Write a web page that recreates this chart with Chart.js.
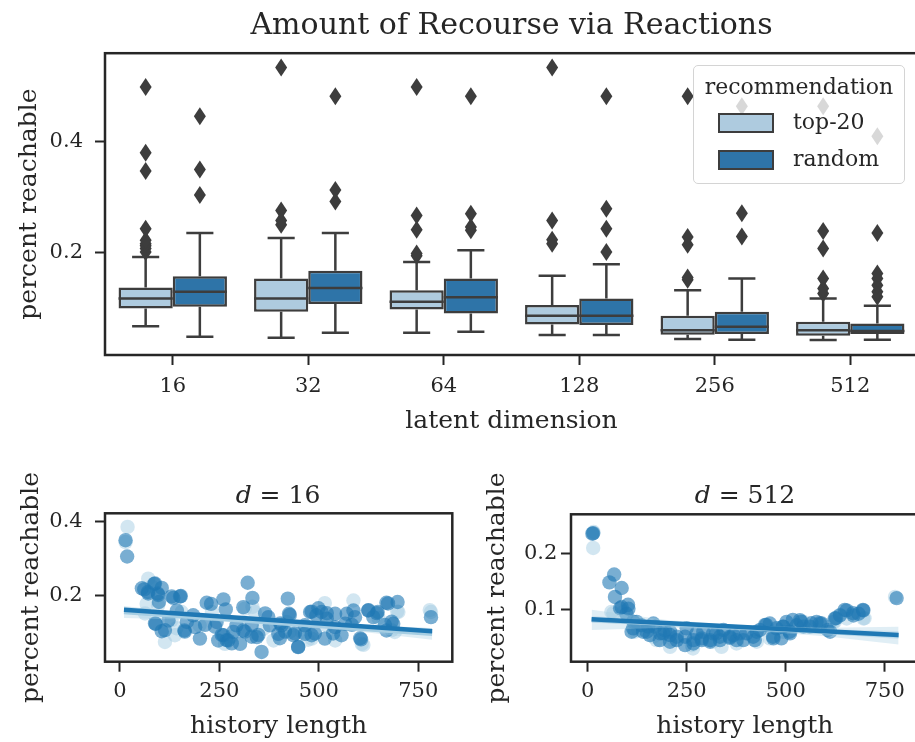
<!DOCTYPE html>
<html>
<head>
<meta charset="utf-8">
<script src="https://cdn.jsdelivr.net/npm/chart.js@4.4.1/dist/chart.umd.min.js"></script>
<style>
body { margin: 0; background: #fff; }
#fig { position: relative; width: 915px; height: 742px; overflow: hidden; background: #fff;
       font-family: 'DejaVu Serif', serif; color: #262626; }
#fig canvas { position: absolute; }
.legend { position: absolute; left: 693px; top: 65px; width: 210px; height: 117px;
          border: 1.5px solid #d4d4d4; border-radius: 5px; background: rgba(255,255,255,0.8);
          font-size: 22px; line-height: 26px; }
.legend div { position: absolute; }
.legend .patch { width: 52px; height: 16px; border: 2px solid #3d3d3d; }
.subtitle { position: absolute; top: 478px; width: 400px; text-align: center; font-size: 25px; line-height: 34px; }
</style>
</head>
<body>
<div id="fig">
  <canvas id="boxes" width="925" height="440" style="left:0;top:0"></canvas>
  <canvas id="reg16" width="460" height="302" style="left:0;top:440px"></canvas>
  <canvas id="reg512" width="466" height="302" style="left:460px;top:440px"></canvas>
  <div class="legend">
    <div style="left:0;width:210px;text-align:center;top:8px">recommendation</div>
    <div class="patch" style="left:24px;top:47px;background:#aecbdf"></div>
    <div style="left:99px;top:43px">top-20</div>
    <div class="patch" style="left:24px;top:84px;background:#2e74a8"></div>
    <div style="left:99px;top:80px">random</div>
  </div>
  <div class="subtitle" style="left:78px"><i>d</i> = 16</div>
  <div class="subtitle" style="left:545px"><i>d</i> = 512</div>
</div>
<script>
// latent dimension boxplots
var dims = ['16', '32', '64', '128', '256', '512'];

var top20Lo  = [0.067, 0.046, 0.055, 0.051, 0.0437, 0.0422];
var top20Q1  = [0.099, 0.093, 0.097, 0.070, 0.0515, 0.0497];
var top20Med = [0.117, 0.117, 0.111, 0.0857, 0.0598, 0.0598];
var top20Q3  = [0.137, 0.153, 0.132, 0.105, 0.0857, 0.0748];
var top20Hi  = [0.192, 0.226, 0.183, 0.158, 0.132, 0.117];
var top20Fliers = [
  [0.201, 0.207, 0.212, 0.216, 0.222, 0.243, 0.347, 0.380, 0.499],
  [0.250, 0.258, 0.276, 0.534],
  [0.194, 0.198, 0.241, 0.267, 0.499],
  [0.216, 0.223, 0.258, 0.534],
  [0.151, 0.155, 0.214, 0.228, 0.482],
  [0.126, 0.135, 0.153, 0.207, 0.239, 0.464]
];

var randomLo  = [0.048, 0.055, 0.057, 0.051, 0.0425, 0.0425];
var randomQ1  = [0.102, 0.107, 0.090, 0.069, 0.0527, 0.0527];
var randomMed = [0.129, 0.136, 0.119, 0.0857, 0.0658, 0.0583];
var randomQ3  = [0.157, 0.167, 0.153, 0.117, 0.0928, 0.0718];
var randomHi  = [0.235, 0.235, 0.204, 0.179, 0.153, 0.104];
var randomFliers = [
  [0.304, 0.350, 0.446],
  [0.292, 0.313, 0.482],
  [0.240, 0.246, 0.270, 0.482],
  [0.201, 0.243, 0.279, 0.482],
  [0.229, 0.271, 0.464],
  [0.120, 0.129, 0.141, 0.153, 0.162, 0.235, 0.410]
];

// d = 16 scatter (history length, percent reachable)
var d16RandomX = [14, 18, 61, 70, 86, 95, 105, 98, 134, 153, 143, 184, 90, 105, 162, 201, 218, 229, 260, 266,
  243, 260, 272, 285, 302, 310, 321, 333, 310, 344, 356, 373, 377, 398, 422, 425, 436, 448, 465, 478,
  494, 507, 520, 541, 515, 557, 570, 587, 591, 606, 624, 648, 670, 698, 687, 670, 782, 293, 247, 331,
  406, 465, 482, 541, 566, 637, 168, 122, 189,
  55, 71, 88, 96, 151, 130, 214, 239, 256, 268, 281, 314, 331, 348, 365, 403, 113, 163, 88, 427,
  482, 499, 520, 625, 646, 674, 683, 666, 415, 440, 490, 536, 583, 604, 448, 402];
var d16RandomY = [0.350, 0.306, 0.217, 0.210, 0.232, 0.206, 0.221, 0.183, 0.194, 0.199, 0.160, 0.147, 0.124, 0.104, 0.106, 0.084, 0.181, 0.178, 0.190, 0.163,
  0.129, 0.093, 0.079, 0.102, 0.070, 0.106, 0.235, 0.194, 0.169, 0.088, 0.048, 0.142, 0.120, 0.097, 0.192, 0.151, 0.093, 0.061, 0.120, 0.156,
  0.147, 0.156, 0.138, 0.151, 0.084, 0.093, 0.151, 0.160, 0.142, 0.082, 0.160, 0.156, 0.181, 0.183, 0.124, 0.106, 0.142, 0.120, 0.079, 0.120,
  0.120, 0.097, 0.093, 0.115, 0.124, 0.142, 0.129, 0.133, 0.115,
  0.220, 0.206, 0.233, 0.202, 0.198, 0.198, 0.121, 0.116, 0.094, 0.080, 0.071, 0.103, 0.089, 0.094, 0.152, 0.125, 0.107, 0.103, 0.125, 0.148,
  0.157, 0.166, 0.153, 0.161, 0.153, 0.179, 0.130, 0.121, 0.103, 0.098, 0.098, 0.098, 0.121, 0.085, 0.062, 0.085];
var d16Top20X = [19, 71, 67, 113, 138, 264, 339, 386, 482, 587, 608, 700, 782, 96, 231, 419, 541, 691, 314, 155, 427, 457,
  14, 80, 200, 280, 360, 520, 650, 63, 130, 142, 515, 697, 779, 683, 612, 473, 333];
var d16Top20Y = [0.386, 0.246, 0.178, 0.075, 0.093, 0.070, 0.156, 0.079, 0.084, 0.187, 0.070, 0.156, 0.156, 0.174, 0.156, 0.129, 0.079, 0.102, 0.165, 0.156, 0.102, 0.102,
  0.345, 0.225, 0.120, 0.090, 0.110, 0.120, 0.140, 0.152, 0.134, 0.112, 0.180, 0.157, 0.161, 0.107, 0.067, 0.081, 0.170];
var d16FitX = [10, 785];
var d16RandomFit = [0.162, 0.104];
var d16Top20Fit = [0.156, 0.097];
var d16BandX = [10, 200, 400, 600, 785];
var d16Top20Lo = [0.140, 0.134, 0.120, 0.103, 0.081];
var d16Top20Hi = [0.172, 0.149, 0.132, 0.119, 0.113];
var d16RandomLo = [0.154, 0.143, 0.129, 0.113, 0.096];
var d16RandomHi = [0.170, 0.152, 0.137, 0.123, 0.112];

// d = 512 scatter
var d512RandomX = [12, 14, 67, 55, 86, 69, 82, 86, 103, 98, 102, 111, 115, 115, 136, 140, 153, 157, 166, 149,
  170, 182, 183, 191, 208, 208, 208, 225, 225, 246, 246, 250, 267, 267, 275, 288, 288, 292, 309, 309,
  317, 325, 334, 334, 343, 359, 359, 368, 376, 384, 393, 401, 418, 422, 427, 435, 448, 451, 460, 468,
  469, 477, 489, 493, 494, 502, 510, 511, 518, 528, 536, 539, 545, 561, 565, 578, 586, 591, 606, 612,
  624, 627, 637, 649, 654, 670, 671, 684, 695, 696, 780, 124, 195];
var d512RandomY = [0.235, 0.236, 0.162, 0.148, 0.138, 0.122, 0.102, 0.104, 0.101, 0.092, 0.108, 0.060, 0.066, 0.078, 0.0715, 0.060, 0.069, 0.054, 0.0745, 0.060,
  0.069, 0.045, 0.057, 0.057, 0.054, 0.060, 0.042, 0.045, 0.051, 0.051, 0.036, 0.066, 0.045, 0.039, 0.057, 0.048, 0.045, 0.060, 0.045, 0.042,
  0.057, 0.057, 0.051, 0.045, 0.063, 0.049, 0.051, 0.054, 0.045, 0.057, 0.045, 0.057, 0.051, 0.045, 0.060, 0.063, 0.072, 0.072, 0.0745, 0.051,
  0.048, 0.066, 0.048, 0.069, 0.069, 0.0775, 0.060, 0.057, 0.081, 0.0715, 0.0805, 0.078, 0.069, 0.069, 0.075, 0.0775, 0.075, 0.0745, 0.063, 0.060,
  0.0835, 0.084, 0.089, 0.099, 0.098, 0.093, 0.089, 0.092, 0.099, 0.098, 0.120, 0.0775, 0.0625];
var d512Top20X = [14, 90, 60, 166, 216, 263, 376, 427, 494, 545, 620, 696, 776, 128, 317, 460, 595, 654, 15,
  119, 174, 266, 338, 208, 65, 624, 699, 637];
var d512Top20Y = [0.2095, 0.0953, 0.0953, 0.051, 0.045, 0.036, 0.039, 0.042, 0.060, 0.0775, 0.0775, 0.0835, 0.122, 0.0625, 0.042, 0.048, 0.0715, 0.0835, 0.238,
  0.060, 0.045, 0.030, 0.033, 0.033, 0.093, 0.078, 0.084, 0.090];
var d512FitX = [10, 785];
var d512RandomFit = [0.082, 0.054];
var d512Top20Fit = [0.081, 0.053];
var d512BandX = [10, 200, 400, 600, 785];
var d512Top20Lo = [0.063, 0.067, 0.062, 0.052, 0.037];
var d512Top20Hi = [0.099, 0.081, 0.071, 0.067, 0.069];
var d512RandomLo = [0.076, 0.071, 0.065, 0.056, 0.047];
var d512RandomHi = [0.088, 0.079, 0.070, 0.065, 0.061];

var spine = '#262626';
var edge = '#3d3d3d';
var lightBox = '#aecbdf';
var darkBox = '#2e74a8';

Chart.defaults.font.family = "'DejaVu Serif', serif";
Chart.defaults.color = spine;
Chart.defaults.animation = false;
Chart.defaults.events = [];
Chart.defaults.plugins.legend.display = false;
Chart.defaults.plugins.tooltip.enabled = false;

// box around the plot area (matplotlib spines)
var frame = {
  id: 'frame',
  afterDraw: function(chart) {
    var a = chart.chartArea, ctx = chart.ctx;
    ctx.save();
    ctx.strokeStyle = spine;
    ctx.lineWidth = 2.5;
    ctx.strokeRect(a.left, a.top, a.right - a.left, a.bottom - a.top);
    ctx.restore();
  }
};

// whiskers, medians and fliers on top of the floating bars
var boxExtras = {
  id: 'boxExtras',
  afterDatasetsDraw: function(chart) {
    var ctx = chart.ctx, y = chart.scales.y;
    var groups = [
      {lo: top20Lo, q1: top20Q1, med: top20Med, q3: top20Q3, hi: top20Hi, fl: top20Fliers},
      {lo: randomLo, q1: randomQ1, med: randomMed, q3: randomQ3, hi: randomHi, fl: randomFliers}
    ];
    ctx.save();
    ctx.strokeStyle = edge;
    ctx.fillStyle = edge;
    ctx.lineWidth = 2.5;
    groups.forEach(function(g, di) {
      chart.getDatasetMeta(di).data.forEach(function(bar, i) {
        var x = bar.x, w = bar.width;
        var pLo = y.getPixelForValue(g.lo[i]), pQ1 = y.getPixelForValue(g.q1[i]);
        var pQ3 = y.getPixelForValue(g.q3[i]), pHi = y.getPixelForValue(g.hi[i]);
        var pMed = y.getPixelForValue(g.med[i]);
        ctx.beginPath();
        ctx.moveTo(x, pQ1); ctx.lineTo(x, pLo);
        ctx.moveTo(x, pQ3); ctx.lineTo(x, pHi);
        ctx.moveTo(x - w / 4, pLo); ctx.lineTo(x + w / 4, pLo);
        ctx.moveTo(x - w / 4, pHi); ctx.lineTo(x + w / 4, pHi);
        ctx.moveTo(x - w / 2, pMed); ctx.lineTo(x + w / 2, pMed);
        ctx.stroke();
        g.fl[i].forEach(function(v) {
          var py = y.getPixelForValue(v);
          ctx.beginPath();
          ctx.moveTo(x, py - 9);
          ctx.lineTo(x + 6, py);
          ctx.lineTo(x, py + 9);
          ctx.lineTo(x - 6, py);
          ctx.closePath();
          ctx.fill();
        });
      });
    });
    ctx.restore();
  }
};

function tickGrid() {
  return {drawOnChartArea: false, tickLength: 10, tickWidth: 2, tickColor: spine, color: spine};
}

new Chart(document.getElementById('boxes'), {
  type: 'bar',
  data: {
    labels: dims,
    datasets: [
      {label: 'top-20', data: dims.map(function(d, i) { return [top20Q1[i], top20Q3[i]]; }),
       backgroundColor: lightBox, borderColor: edge, borderWidth: 2.5, borderSkipped: false,
       categoryPercentage: 0.8, barPercentage: 1},
      {label: 'random', data: dims.map(function(d, i) { return [randomQ1[i], randomQ3[i]]; }),
       backgroundColor: darkBox, borderColor: edge, borderWidth: 2.5, borderSkipped: false,
       categoryPercentage: 0.8, barPercentage: 1}
    ]
  },
  options: {
    responsive: false,
    devicePixelRatio: 1,
    layout: {padding: {right: 7}},
    plugins: {
      title: {display: true, text: 'Amount of Recourse via Reactions', fullSize: false, color: spine,
              font: {size: 30, weight: 'normal'}, padding: {top: 8.6, bottom: 8.6}}
    },
    scales: {
      x: {
        grid: Object.assign(tickGrid(), {offset: false}),
        border: {display: false},
        ticks: {font: {size: 21}, padding: 9},
        title: {display: true, text: 'latent dimension', font: {size: 25}, padding: {top: 0, bottom: 3.3}},
        afterFit: function(s) { s.height = 85; }
      },
      y: {
        min: 0.0149, max: 0.5599,
        grid: tickGrid(),
        border: {display: false},
        ticks: {stepSize: 0.2, includeBounds: false, font: {size: 21}, padding: 12},
        title: {display: true, text: 'percent reachable', font: {size: 25}, padding: {top: 14, bottom: 0}},
        afterFit: function(s) { s.width = 105; }
      }
    }
  },
  plugins: [boxExtras, frame]
});

function pts(xs, ys) {
  return xs.map(function(x, i) { return {x: x, y: ys[i]}; });
}

function regChart(id, o) {
  var hidden = 'rgba(0,0,0,0)';
  new Chart(document.getElementById(id), {
    type: 'scatter',
    data: {
      datasets: [
        {type: 'line', data: pts(o.bandX, o.top20Lo), showLine: true, borderColor: hidden, borderWidth: 0, pointRadius: 0, fill: false, order: 3},
        {type: 'line', data: pts(o.bandX, o.top20Hi), showLine: true, borderColor: hidden, borderWidth: 0, pointRadius: 0,
         fill: '-1', backgroundColor: 'rgba(166,206,227,0.35)', order: 3},
        {type: 'line', data: pts(o.bandX, o.randomLo), showLine: true, borderColor: hidden, borderWidth: 0, pointRadius: 0, fill: false, order: 3},
        {type: 'line', data: pts(o.bandX, o.randomHi), showLine: true, borderColor: hidden, borderWidth: 0, pointRadius: 0,
         fill: '-1', backgroundColor: 'rgba(31,120,180,0.15)', order: 3},
        {type: 'line', data: pts(o.fitX, o.top20Fit), showLine: true, borderColor: '#a6cee3', borderWidth: 4.5, pointRadius: 0, order: 2},
        {type: 'line', data: pts(o.fitX, o.randomFit), showLine: true, borderColor: '#1f78b4', borderWidth: 4.5, pointRadius: 0, order: 1},
        {data: pts(o.top20X, o.top20Y), backgroundColor: 'rgba(166,206,227,0.5)', borderWidth: 0, pointRadius: 7.2, order: 5},
        {data: pts(o.randomX, o.randomY), backgroundColor: 'rgba(31,120,180,0.6)', borderWidth: 0, pointRadius: 7.2, order: 4}
      ]
    },
    options: {
      responsive: false,
      devicePixelRatio: 1,
      layout: {padding: {top: o.top, right: o.right}},
      scales: {
        x: {
          min: o.xMin, max: o.xMax,
          grid: tickGrid(),
          border: {display: false},
          ticks: {stepSize: 250, includeBounds: false, font: {size: 21}, padding: 7.4},
          title: {display: true, text: 'history length', font: {size: 25}, padding: {top: 0, bottom: 0.3}},
          afterFit: function(s) { s.height = 80.3; }
        },
        y: {
          min: o.yMin, max: o.yMax,
          grid: tickGrid(),
          border: {display: false},
          ticks: {stepSize: o.yStep, includeBounds: false, font: {size: 21}, padding: o.tickPad},
          title: {display: true, text: 'percent reachable', font: {size: 25}, padding: {top: o.titlePad, bottom: 0}},
          afterFit: function(s) { s.width = o.axisW; }
        }
      }
    },
    plugins: [frame]
  });
}

regChart('reg16', {
  randomX: d16RandomX, randomY: d16RandomY, top20X: d16Top20X, top20Y: d16Top20Y,
  fitX: d16FitX, randomFit: d16RandomFit, top20Fit: d16Top20Fit,
  bandX: d16BandX, top20Lo: d16Top20Lo, top20Hi: d16Top20Hi, randomLo: d16RandomLo, randomHi: d16RandomHi,
  xMin: -37.7, xMax: 835.6, yMin: 0.0216, yMax: 0.4227, yStep: 0.2,
  top: 73.3, right: 7.7, axisW: 105, tickPad: 12.3, titlePad: 16.7
});

regChart('reg512', {
  randomX: d512RandomX, randomY: d512RandomY, top20X: d512Top20X, top20Y: d512Top20Y,
  fitX: d512FitX, randomFit: d512RandomFit, top20Fit: d512Top20Fit,
  bandX: d512BandX, top20Lo: d512Top20Lo, top20Hi: d512Top20Hi, randomLo: d512RandomLo, randomHi: d512RandomHi,
  xMin: -42, xMax: 836, yMin: 0.0064, yMax: 0.2696, yStep: 0.1,
  top: 74.3, right: 7, axisW: 111, tickPad: 3.7, titlePad: 22.5
});
</script>
</body>
</html>
